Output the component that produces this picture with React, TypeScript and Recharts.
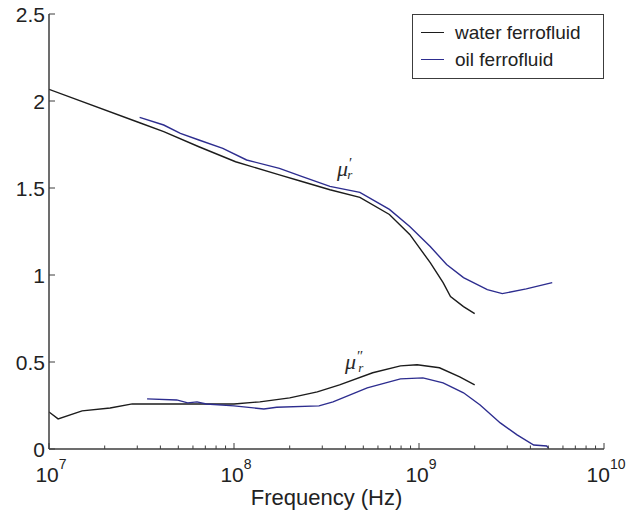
import { LineChart, Line, XAxis, YAxis, Legend, ReferenceDot } from 'recharts'

// frequencies in Hz, relative permeability values
const waterRealFreq = [1e7, 3.09e7, 4.17e7, 6.46e7, 1.02e8, 1.76e8, 2.28e8, 3.3e8, 4.79e8, 6.92e8, 8.91e8, 1.15e9, 1.35e9, 1.48e9, 1.74e9, 2.0e9]
const waterRealMu = [2.067, 1.875, 1.824, 1.737, 1.651, 1.575, 1.54, 1.49, 1.446, 1.348, 1.233, 1.071, 0.956, 0.876, 0.818, 0.778]

const oilRealFreq = [3.09e7, 4.17e7, 5.13e7, 6.46e7, 8.7e7, 1.17e8, 1.76e8, 2.34e8, 3.3e8, 4.79e8, 6.92e8, 8.91e8, 1.15e9, 1.41e9, 1.74e9, 2.34e9, 2.82e9, 3.8e9, 5.25e9]
const oilRealMu = [1.906, 1.862, 1.814, 1.776, 1.728, 1.661, 1.613, 1.565, 1.509, 1.475, 1.377, 1.279, 1.164, 1.06, 0.985, 0.916, 0.893, 0.92, 0.956]

const waterImagFreq = [1e7, 1.12e7, 1.51e7, 2.14e7, 2.82e7, 6.6e7, 1e8, 1.38e8, 2.0e8, 2.82e8, 3.72e8, 5.62e8, 7.94e8, 9.77e8, 1.29e9, 1.66e9, 2.0e9]
const waterImagMu = [0.213, 0.173, 0.219, 0.236, 0.259, 0.259, 0.259, 0.271, 0.294, 0.328, 0.369, 0.438, 0.478, 0.484, 0.467, 0.415, 0.369]

const oilImagFreq = [3.39e7, 4.9e7, 5.62e7, 6.31e7, 7.08e7, 1e8, 1.45e8, 1.7e8, 2.88e8, 3.43e8, 5.25e8, 7.94e8, 1.05e9, 1.35e9, 1.74e9, 2.14e9, 2.75e9, 3.39e9, 4.17e9, 4.9e9, 5.01e9]
const oilImagMu = [0.288, 0.282, 0.265, 0.271, 0.259, 0.248, 0.23, 0.24, 0.248, 0.271, 0.351, 0.403, 0.409, 0.38, 0.323, 0.253, 0.15, 0.081, 0.023, 0.017, 0.005]

const xMajorTicks = [1e7, 1e8, 1e9, 1e10]
const xMinorSteps = [2, 3, 4, 5, 6, 7, 8, 9]
const yTicks = [0, 0.5, 1, 1.5, 2, 2.5]
const legendNames = ['water ferrofluid', 'oil ferrofluid']

const WATER = '#1c1c1c'
const OIL = '#2d2d8f'
const AXIS = '#3c3c3c'
const FONT = "'Liberation Sans', Arial, sans-serif"
const SERIF = "'Liberation Serif', 'Times New Roman', serif"

const toPoints = (freq: number[], mu: number[]) => freq.map((f, i) => ({ f, mu: mu[i] }))

const waterReal = toPoints(waterRealFreq, waterRealMu)
const oilReal = toPoints(oilRealFreq, oilRealMu)
const waterImag = toPoints(waterImagFreq, waterImagMu)
const oilImag = toPoints(oilImagFreq, oilImagMu)

const xTicks = [
  ...xMajorTicks,
  ...xMajorTicks.slice(0, -1).flatMap((d) => xMinorSteps.map((s) => s * d)),
].sort((a, b) => a - b)

const isMajor = (v: number) => xMajorTicks.includes(v)

function BottomTick({ x, y, payload }: any) {
  const v = payload.value
  const major = isMajor(v)
  return (
    <g>
      <line x1={x} x2={x} y1={y} y2={y - (major ? 6 : 3.5)} stroke={AXIS} strokeWidth={1} />
      {major && (
        <text x={x + 2} y={y + 33} textAnchor="middle" fontSize={21} fontFamily={FONT} fill="#222">
          10
          <tspan dy={-13} fontSize={14}>
            {Math.round(Math.log10(v))}
          </tspan>
        </text>
      )}
    </g>
  )
}

function TopTick({ x, y, payload }: any) {
  const major = isMajor(payload.value)
  return <line x1={x} x2={x} y1={y} y2={y + (major ? 6 : 3.5)} stroke={AXIS} strokeWidth={1} />
}

function LeftTick({ x, y, payload }: any) {
  return (
    <g>
      <line x1={x} x2={x + 6} y1={y} y2={y} stroke={AXIS} strokeWidth={1} />
      <text x={x - 4} y={y + 8} textAnchor="end" fontSize={21} fontFamily={FONT} fill="#222">
        {String(payload.value)}
      </text>
    </g>
  )
}

function RightTick({ x, y }: any) {
  return <line x1={x} x2={x - 6} y1={y} y2={y} stroke={AXIS} strokeWidth={1} />
}

// μ with prime(s) up and subscript r stacked underneath
function MuLabel({ cx, cy, primes }: { cx: number; cy: number; primes: string }) {
  return (
    <text x={cx - 14} y={cy + 6} fontFamily={SERIF} fontStyle="italic" fontSize={22} fill="#2a2a2a">
      μ
      <tspan dx={1} dy={-8} fontSize={15} fontStyle="normal">
        {primes}
      </tspan>
      <tspan dx={primes.length > 1 ? -8 : -5} dy={11} fontSize={13}>
        r
      </tspan>
    </text>
  )
}

function LegendBox() {
  const colors = [WATER, OIL]
  return (
    <div
      style={{
        width: 192,
        height: 65,
        border: `1px solid ${AXIS}`,
        background: '#fff',
        fontFamily: FONT,
        fontSize: 19,
        color: '#222',
        boxSizing: 'border-box',
        paddingTop: 4,
      }}
    >
      {legendNames.map((name, i) => (
        <div key={name} style={{ display: 'flex', alignItems: 'center', height: 27 }}>
          <span style={{ display: 'inline-block', width: 23, height: 0, borderTop: `1.5px solid ${colors[i]}`, marginLeft: 8, marginRight: 11 }} />
          <span>{name}</span>
        </div>
      ))}
    </div>
  )
}

export default function App() {
  return (
    <div style={{ position: 'absolute', left: 0, top: 0, width: 626, height: 512, background: '#fff' }}>
      <LineChart width={626} height={512} margin={{ top: 14, right: 22, bottom: 0, left: 0 }}>
        <XAxis
          dataKey="f"
          type="number"
          scale="log"
          domain={[1e7, 1e10]}
          ticks={xTicks}
          interval={0}
          allowDataOverflow
          height={63}
          tickSize={0}
          tickMargin={0}
          tick={<BottomTick />}
          axisLine={{ stroke: AXIS, strokeWidth: 1.5 }}
          tickLine={false}
          label={{ value: 'Frequency (Hz)', position: 'insideBottom', offset: 7, fontSize: 22, fontFamily: FONT, fill: '#222' }}
        />
        <XAxis
          xAxisId="top"
          orientation="top"
          dataKey="f"
          type="number"
          scale="log"
          domain={[1e7, 1e10]}
          ticks={xTicks}
          interval={0}
          allowDataOverflow
          height={0}
          tickSize={0}
          tickMargin={0}
          tick={<TopTick />}
          axisLine={{ stroke: AXIS, strokeWidth: 1.5 }}
          tickLine={false}
        />
        <YAxis
          type="number"
          domain={[0, 2.5]}
          ticks={yTicks}
          interval={0}
          width={49}
          tickSize={0}
          tickMargin={0}
          tick={<LeftTick />}
          axisLine={{ stroke: AXIS, strokeWidth: 1.5 }}
          tickLine={false}
        />
        <YAxis
          yAxisId="right"
          orientation="right"
          type="number"
          domain={[0, 2.5]}
          ticks={yTicks}
          interval={0}
          width={0}
          tickSize={0}
          tickMargin={0}
          tick={<RightTick />}
          axisLine={{ stroke: AXIS, strokeWidth: 1.5 }}
          tickLine={false}
        />
        <Legend
          layout="vertical"
          align="center"
          verticalAlign="middle"
          content={() => <LegendBox />}
          wrapperStyle={{ position: 'absolute', left: 412, top: 14, width: 192, height: 65 }}
        />
        <Line data={waterReal} dataKey="mu" type="linear" stroke={WATER} strokeWidth={1.4} dot={false} isAnimationActive={false} />
        <Line data={oilReal} dataKey="mu" type="linear" stroke={OIL} strokeWidth={1.4} dot={false} isAnimationActive={false} />
        <Line data={waterImag} dataKey="mu" type="linear" stroke={WATER} strokeWidth={1.4} dot={false} isAnimationActive={false} />
        <Line data={oilImag} dataKey="mu" type="linear" stroke={OIL} strokeWidth={1.4} dot={false} isAnimationActive={false} />
        <ReferenceDot x={4.29e8} y={1.601} r={0} shape={(p: any) => <MuLabel cx={p.cx} cy={p.cy} primes="′" />} />
        <ReferenceDot x={4.74e8} y={0.495} r={0} shape={(p: any) => <MuLabel cx={p.cx} cy={p.cy} primes="″" />} />
      </LineChart>
    </div>
  )
}
